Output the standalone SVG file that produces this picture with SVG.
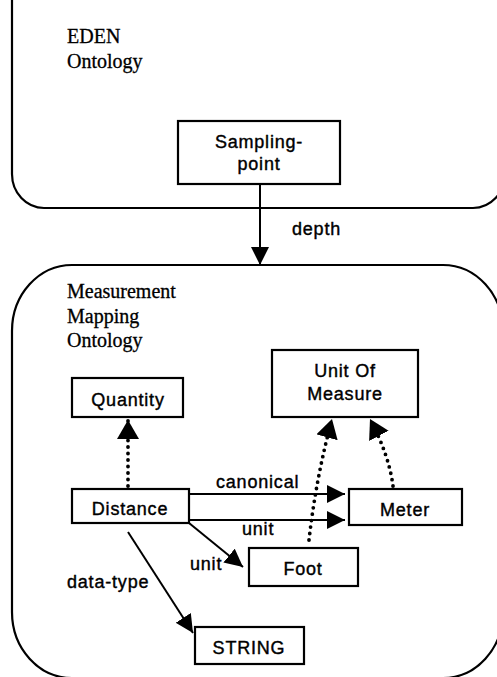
<svg xmlns="http://www.w3.org/2000/svg" width="497" height="677" viewBox="0 0 497 677">
<style>
.cont{fill:none;stroke:#000;stroke-width:2.2}
.box{fill:#fff;stroke:#000;stroke-width:2.2}
.lbl{font-family:"Liberation Sans",Arial,sans-serif;font-size:18px;letter-spacing:0.8px;fill:#000;stroke:#000;stroke-width:0.4;text-anchor:middle}
.edge{font-family:"Liberation Sans",Arial,sans-serif;font-size:18px;letter-spacing:0.8px;fill:#000;stroke:#000;stroke-width:0.4}
.title{font-family:"Liberation Serif","Times New Roman",serif;font-size:20px;fill:#000;stroke:#000;stroke-width:0.3}
.solid{fill:none;stroke:#000;stroke-width:2}
.dot{fill:none;stroke:#000;stroke-width:3.8;stroke-linecap:round;stroke-dasharray:0 6.5}
</style>
<defs>
<marker id="ah" markerUnits="userSpaceOnUse" markerWidth="20" markerHeight="20" refX="18" refY="9" orient="auto" viewBox="0 0 20 20">
<path d="M0,0 L18,9 L0,18 z" fill="#000"/>
</marker>
<marker id="ahd" markerUnits="userSpaceOnUse" markerWidth="22" markerHeight="24" refX="19" refY="11" orient="auto" viewBox="0 0 22 24">
<path d="M0,0 L19,11 L0,22 z" fill="#000"/>
</marker>
</defs>
<g id="eden-ontology">
<rect class="cont" x="12" y="-60" width="493" height="268" rx="32" ry="34"/>
<text class="title" x="67" y="43">EDEN</text>
<text class="title" x="67" y="68">Ontology</text>
</g>
<g id="measurement-mapping-ontology">
<rect class="cont" x="12" y="265" width="491" height="413" rx="60" ry="66"/>
<text class="title" x="67" y="298">Measurement</text>
<text class="title" x="67" y="323">Mapping</text>
<text class="title" x="67" y="347">Ontology</text>
</g>
<g id="connectors">
<path class="solid" d="M260,185 L260,265" marker-end="url(#ah)"/>
<path class="solid" d="M189,494 L345,494" marker-end="url(#ah)"/>
<path class="solid" d="M189,520 L345,520" marker-end="url(#ah)"/>
<path class="solid" d="M189,523 L243,567" marker-end="url(#ah)"/>
<path class="solid" d="M128,532 L193,633" marker-end="url(#ah)"/>
<path class="dot" d="M128,486 L128,420" marker-end="url(#ahd)"/>
<path class="dot" d="M309,540 Q316,478 332,419" marker-end="url(#ahd)"/>
<path class="dot" d="M393,486 Q389,455 370,419" marker-end="url(#ahd)"/>
<text class="edge" x="292" y="235">depth</text>
<text class="edge" x="216" y="488">canonical</text>
<text class="edge" x="242" y="535">unit</text>
<text class="edge" x="190" y="570">unit</text>
<text class="edge" x="67" y="588">data-type</text>
</g>
<g id="sampling-point">
<rect class="box" x="178" y="121" width="162" height="63"/>
<text class="lbl" x="259" y="148">Sampling-</text>
<text class="lbl" x="259" y="170">point</text>
</g>
<g id="quantity">
<rect class="box" x="72" y="378" width="111" height="39"/>
<text class="lbl" x="128" y="406">Quantity</text>
</g>
<g id="unit-of-measure">
<rect class="box" x="272" y="350" width="146" height="67"/>
<text class="lbl" x="345" y="377">Unit Of</text>
<text class="lbl" x="345" y="400">Measure</text>
</g>
<g id="distance">
<rect class="box" x="72" y="489" width="117" height="34"/>
<text class="lbl" x="130" y="515">Distance</text>
</g>
<g id="meter">
<rect class="box" x="349" y="489" width="113" height="36"/>
<text class="lbl" x="405" y="516">Meter</text>
</g>
<g id="foot">
<rect class="box" x="249" y="548" width="109" height="38"/>
<text class="lbl" x="303" y="575">Foot</text>
</g>
<g id="string">
<rect class="box" x="195" y="627" width="109" height="37"/>
<text class="lbl" x="249" y="654">STRING</text>
</g>
</svg>
